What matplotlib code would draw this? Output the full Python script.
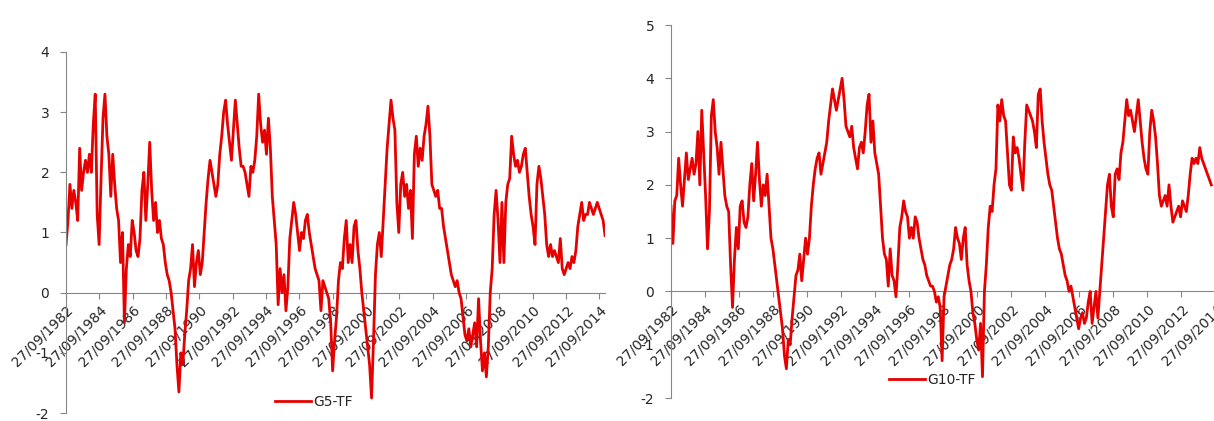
import numpy as np
import pandas as pd
import matplotlib
matplotlib.use("Agg")
import matplotlib.pyplot as plt
import matplotlib.dates as mdates

plt.rcParams["axes.unicode_minus"] = False

# G5-TF, roughly every 6 weeks from 27/09/1982
g5_start = "1982-09-27"
g5_end = "2015-02-01"
g5_values = [
    0.8, 1.2, 1.8, 1.4, 1.7, 1.5, 1.2, 2.4, 1.7, 2.0,
    2.2, 2.0, 2.3, 2.0, 2.8, 3.3, 1.3, 0.8, 1.9, 2.9,
    3.3, 2.6, 2.3, 1.6, 2.3, 1.8, 1.4, 1.2, 0.5, 1.0,
    -0.5, 0.4, 0.8, 0.6, 1.2, 1.0, 0.7, 0.6, 0.9, 1.7,
    2.0, 1.2, 1.8, 2.5, 1.7, 1.2, 1.5, 1.0, 1.2, 0.9,
    0.8, 0.5, 0.3, 0.2, 0.0, -0.3, -0.6, -1.2, -1.65, -1.0,
    -1.2, -0.7, -0.3, 0.2, 0.4, 0.8, 0.1, 0.5, 0.7, 0.3,
    0.5, 1.0, 1.5, 1.9, 2.2, 2.0, 1.8, 1.6, 1.8, 2.3,
    2.6, 3.0, 3.2, 2.8, 2.5, 2.2, 2.7, 3.2, 2.8, 2.4,
    2.1, 2.1, 2.0, 1.8, 1.6, 2.1, 2.0, 2.2, 2.6, 3.3,
    2.8, 2.5, 2.7, 2.3, 2.9, 2.4, 1.6, 1.2, 0.8, -0.2,
    0.4, 0.0, 0.3, -0.3, 0.1, 0.9, 1.2, 1.5, 1.3, 1.0,
    0.7, 1.0, 0.9, 1.2, 1.3, 1.0, 0.8, 0.6, 0.4, 0.3,
    0.2, -0.3, 0.2, 0.1, 0.0, -0.1, -0.5, -1.3, -0.8, -0.4,
    0.2, 0.5, 0.4, 0.9, 1.2, 0.5, 0.8, 0.5, 1.1, 1.2,
    0.7, 0.4, 0.0, -0.3, -0.6, -0.9, -1.2, -1.75, -0.8, 0.3,
    0.8, 1.0, 0.6, 1.2, 1.8, 2.4, 2.8, 3.2, 2.9, 2.7,
    1.5, 1.0, 1.8, 2.0, 1.6, 1.8, 1.4, 1.7, 0.9, 2.3,
    2.6, 2.1, 2.4, 2.2, 2.6, 2.8, 3.1, 2.6, 1.8, 1.7,
    1.6, 1.7, 1.4, 1.4, 1.1, 0.9, 0.7, 0.5, 0.3, 0.2,
    0.1, 0.2, 0.0, -0.1, -0.4, -0.7, -0.8, -0.6, -0.9, -0.7,
    -0.5, -0.9, -0.1, -0.8, -1.3, -1.0, -1.4, -0.9, 0.0, 0.4,
    1.3, 1.7, 1.2, 0.5, 1.5, 0.5, 1.5, 1.8, 1.9, 2.6,
    2.3, 2.1, 2.2, 2.0, 2.1, 2.3, 2.4, 2.0, 1.6, 1.3,
    1.1, 0.8, 1.8, 2.1, 1.9, 1.6, 1.3, 0.8, 0.6, 0.8,
    0.6, 0.7, 0.6, 0.5, 0.9, 0.4, 0.3, 0.4, 0.5, 0.4,
    0.6, 0.5, 0.7, 1.1, 1.3, 1.5, 1.2, 1.3, 1.3, 1.5,
    1.4, 1.3, 1.4, 1.5, 1.4, 1.3, 1.2, 0.95,
]

# G10-TF, same spacing, the right chart is cut off at the image edge
g10_start = "1982-09-27"
g10_end = "2014-07-10"
g10_values = [
    1.6, 0.9, 1.7, 1.8, 2.5, 2.0, 1.6, 2.1, 2.6, 2.1,
    2.3, 2.5, 2.2, 2.4, 3.0, 2.0, 3.4, 2.6, 1.8, 0.8,
    1.5, 3.3, 3.6, 3.0, 2.7, 2.2, 2.8, 2.3, 1.8, 1.6,
    1.5, 0.5, -0.3, 0.6, 1.2, 0.8, 1.6, 1.7, 1.3, 1.2,
    1.4, 2.0, 2.4, 1.7, 2.2, 2.8, 2.1, 1.6, 2.0, 1.8,
    2.2, 1.6, 1.0, 0.8, 0.5, 0.2, -0.1, -0.4, -0.7, -1.2,
    -1.45, -0.9, -1.0, -0.5, -0.1, 0.3, 0.4, 0.7, 0.2, 0.6,
    1.0, 0.7, 1.0, 1.6, 2.0, 2.3, 2.5, 2.6, 2.2, 2.4,
    2.6, 2.8, 3.2, 3.5, 3.8, 3.6, 3.4, 3.6, 3.8, 4.0,
    3.6, 3.1, 3.0, 2.9, 3.1, 2.7, 2.5, 2.3, 2.7, 2.8,
    2.6, 3.0, 3.5, 3.7, 2.8, 3.2, 2.6, 2.4, 2.2, 1.6,
    1.0, 0.7, 0.6, 0.1, 0.8, 0.3, 0.2, -0.1, 0.5, 1.2,
    1.4, 1.7, 1.5, 1.4, 1.0, 1.2, 1.0, 1.4, 1.3, 1.0,
    0.8, 0.6, 0.5, 0.3, 0.2, 0.1, 0.1, 0.0, -0.2, -0.1,
    -0.3, -1.3, -0.1, 0.1, 0.3, 0.5, 0.6, 0.8, 1.2, 1.0,
    0.9, 0.6, 1.0, 1.2, 0.5, 0.2, 0.0, -0.4, -0.6, -0.9,
    -1.1, -0.6, -1.6, 0.0, 0.5, 1.2, 1.6, 1.5, 2.0, 2.3,
    3.5, 3.2, 3.6, 3.3, 3.2, 2.6, 2.0, 1.9, 2.9, 2.6,
    2.7, 2.5, 2.2, 1.9, 2.8, 3.5, 3.4, 3.3, 3.2, 3.0,
    2.7, 3.7, 3.8, 3.2, 2.8, 2.5, 2.2, 2.0, 1.9, 1.6,
    1.3, 1.0, 0.8, 0.7, 0.5, 0.3, 0.2, 0.0, 0.1, -0.1,
    -0.3, -0.5, -0.7, -0.5, -0.4, -0.6, -0.5, -0.2, 0.0, -0.6,
    -0.3, 0.0, -0.5, 0.0, 0.5, 1.0, 1.5, 2.0, 2.2, 1.6,
    1.4, 2.2, 2.3, 2.1, 2.6, 2.8, 3.2, 3.6, 3.3, 3.4,
    3.2, 3.0, 3.3, 3.6, 3.2, 2.8, 2.5, 2.3, 2.2, 3.0,
    3.4, 3.2, 2.9, 2.4, 1.8, 1.6, 1.7, 1.8, 1.6, 2.0,
    1.6, 1.3, 1.4, 1.5, 1.6, 1.4, 1.7, 1.6, 1.5, 1.8,
    2.2, 2.5, 2.4, 2.5, 2.4, 2.7, 2.5, 2.4, 2.3, 2.2,
    2.1, 2.0,
]

tick_years = list(range(1982, 2015, 2))
tick_dates = [pd.Timestamp(f"{y}-09-27") for y in tick_years]
x_min = pd.Timestamp("1982-09-27")
x_max = pd.Timestamp("2015-02-01")

panels = [
    (g5_start, g5_end, g5_values, "G5-TF", [0.0544, 0.0190, 0.444, 0.8575], (-2, 4), (0.46, 0.03)),
    (g10_start, g10_end, g10_values, "G10-TF", [0.5527, 0.0546, 0.453, 0.886], (-2, 5), (0.475, 0.048)),
]

fig = plt.figure(figsize=(12.14, 4.21), dpi=100)
grey = "#868686"

for start, end, values, name, rect, ylim, leg_pos in panels:
    ax = fig.add_axes(rect)
    dates = pd.date_range(start, end, periods=len(values))
    ax.plot(dates, values, color="#e60000", lw=2.0, label=name)

    ax.set_xlim(x_min, x_max)
    ax.set_ylim(*ylim)
    ax.set_yticks(range(ylim[0], ylim[1] + 1))
    ax.set_xticks(tick_dates)
    ax.xaxis.set_major_formatter(mdates.DateFormatter("%d/%m/%Y"))

    for s in ["top", "right"]:
        ax.spines[s].set_visible(False)
    ax.spines["bottom"].set_position(("data", 0))
    ax.spines["bottom"].set_color(grey)
    ax.spines["left"].set_color(grey)
    ax.spines["bottom"].set_zorder(0)

    ax.tick_params(axis="both", direction="out", length=4, color=grey,
                   labelsize=10, labelcolor="#262626")
    ax.tick_params(axis="y", pad=8)
    for lab in ax.get_xticklabels():
        lab.set_rotation(45)
        lab.set_ha("right")
        lab.set_va("top")
        lab.set_rotation_mode("anchor")

    ax.legend(loc="center", bbox_to_anchor=leg_pos, frameon=False,
              fontsize=10, handlelength=2.6, handletextpad=0.2,
              labelcolor="#262626")

fig.savefig("out.png", dpi=100)
